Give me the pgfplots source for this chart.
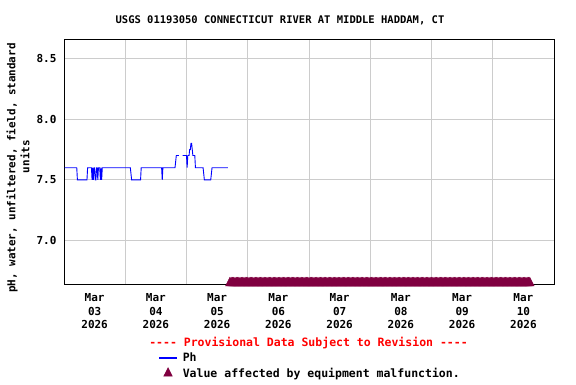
\documentclass[border=0pt]{standalone}
\usepackage{pgfplots}
\pgfplotsset{compat=1.18}
\usepackage{fontspec}
\setmonofont{DejaVu Sans Mono}
\definecolor{usgsmaroon}{RGB}{128,0,64}
\definecolor{gridgray}{RGB}{204,204,204}
\begin{document}
\begin{tikzpicture}
\path[use as bounding box] (0pt,0pt) rectangle (576pt,384pt);
\node[font=\ttfamily\bfseries\fontsize{10.5}{12}\selectfont] at (280pt,364pt) {USGS 01193050 CONNECTICUT RIVER AT MIDDLE HADDAM, CT};
\node[rotate=90, font=\ttfamily\bfseries\fontsize{10.9}{12}\selectfont] at (12pt,216pt) {pH, water, unfiltered, field, standard};
\node[rotate=90, font=\ttfamily\bfseries\fontsize{10.9}{12}\selectfont] at (25pt,227.3pt) {units};
\node[text=red, font=\ttfamily\bfseries\fontsize{11.5}{13}\selectfont] at (308.5pt,41pt) {---- Provisional Data Subject to Revision ----};
\begin{axis}[
 at={(64pt,99.7pt)}, anchor=south west, scale only axis, width=490pt, height=245pt,
 xmin=0, xmax=192, ymin=6.641, ymax=8.656,
 xtick={12,36,60,84,108,132,156,180},
 xticklabels={{Mar\\03\\2026},{Mar\\04\\2026},{Mar\\05\\2026},{Mar\\06\\2026},{Mar\\07\\2026},{Mar\\08\\2026},{Mar\\09\\2026},{Mar\\10\\2026}},
 minor xtick={24,48,72,96,120,144,168},
 ytick={7,7.5,8,8.5},
 major tick length=0pt, minor tick length=0pt,
 xminorgrids=true, ymajorgrids=true,
 grid style={gridgray, line width=1pt}, minor grid style={gridgray, line width=1pt},
 axis line style={black, line width=1pt},
 tick label style={font=\ttfamily\bfseries\fontsize{11}{13.5}\selectfont},
 xticklabel style={align=center, yshift=-6pt},
 /pgf/number format/assume math mode=true,
 yticklabel style={xshift=-4pt, /pgf/number format/fixed, /pgf/number format/fixed zerofill, /pgf/number format/precision=1},
 clip=false,
 unbounded coords=jump,
 legend cell align=left,
 legend style={at={(axis description cs:0.188,-0.262)}, anchor=north west, draw=none, fill=none,
   font=\ttfamily\bfseries\fontsize{11.5}{13}\selectfont, row sep=1pt, column sep=4pt},
]
\addplot[blue, line width=0.9pt, sharp plot, forget plot] coordinates {
(0.25,7.6) (5.0,7.6) (5.25,7.5) (9.0,7.5) (9.25,7.6) (10.75,7.6) (11.0,7.5) (11.25,7.6) (11.5,7.5) (11.75,7.6)
(12.0,7.6) (12.25,7.5) (12.5,7.5) (12.75,7.6) (13.0,7.6) (13.25,7.5) (13.5,7.6) (14.0,7.6) (14.25,7.5) (14.5,7.6)
(14.75,7.5) (15.0,7.6) (26.0,7.6) (26.25,7.55) (26.5,7.5) (30.0,7.5) (30.25,7.6) (38.25,7.6) (38.5,7.5) (38.75,7.6)
(43.5,7.6) (43.75,7.65) (44.0,7.7) (45.0,7.7) (45.5,nan) (46.5,7.7) (48.0,7.7) (48.25,7.6) (48.5,7.7) (49.0,7.7)
(49.25,7.75) (49.5,7.75) (49.75,7.8) (50.0,7.8) (50.25,7.75) (50.5,7.7) (51.25,7.7) (51.5,7.6) (54.5,7.6) (54.75,7.55)
(55.0,7.5) (57.5,7.5) (57.75,7.55) (58.0,7.6) (64.25,7.6)
};
\addplot[only marks, forget plot, mark=triangle*, mark size=5pt, mark options={usgsmaroon, draw=none, fill=usgsmaroon, yscale=1.15}] coordinates {
(65,6.652) (65.5,6.652) (66,6.652) (66.5,6.652) (67,6.652) (67.5,6.652) (68,6.652) (68.5,6.652) (69,6.652) (69.5,6.652)
(70,6.652) (70.5,6.652) (71,6.652) (71.5,6.652) (72,6.652) (72.5,6.652) (73,6.652) (73.5,6.652) (74,6.652) (74.5,6.652)
(75,6.652) (75.5,6.652) (76,6.652) (76.5,6.652) (77,6.652) (77.5,6.652) (78,6.652) (78.5,6.652) (79,6.652) (79.5,6.652)
(80,6.652) (80.5,6.652) (81,6.652) (81.5,6.652) (82,6.652) (82.5,6.652) (83,6.652) (83.5,6.652) (84,6.652) (84.5,6.652)
(85,6.652) (85.5,6.652) (86,6.652) (86.5,6.652) (87,6.652) (87.5,6.652) (88,6.652) (88.5,6.652) (89,6.652) (89.5,6.652)
(90,6.652) (90.5,6.652) (91,6.652) (91.5,6.652) (92,6.652) (92.5,6.652) (93,6.652) (93.5,6.652) (94,6.652) (94.5,6.652)
(95,6.652) (95.5,6.652) (96,6.652) (96.5,6.652) (97,6.652) (97.5,6.652) (98,6.652) (98.5,6.652) (99,6.652) (99.5,6.652)
(100,6.652) (100.5,6.652) (101,6.652) (101.5,6.652) (102,6.652) (102.5,6.652) (103,6.652) (103.5,6.652) (104,6.652) (104.5,6.652)
(105,6.652) (105.5,6.652) (106,6.652) (106.5,6.652) (107,6.652) (107.5,6.652) (108,6.652) (108.5,6.652) (109,6.652) (109.5,6.652)
(110,6.652) (110.5,6.652) (111,6.652) (111.5,6.652) (112,6.652) (112.5,6.652) (113,6.652) (113.5,6.652) (114,6.652) (114.5,6.652)
(115,6.652) (115.5,6.652) (116,6.652) (116.5,6.652) (117,6.652) (117.5,6.652) (118,6.652) (118.5,6.652) (119,6.652) (119.5,6.652)
(120,6.652) (120.5,6.652) (121,6.652) (121.5,6.652) (122,6.652) (122.5,6.652) (123,6.652) (123.5,6.652) (124,6.652) (124.5,6.652)
(125,6.652) (125.5,6.652) (126,6.652) (126.5,6.652) (127,6.652) (127.5,6.652) (128,6.652) (128.5,6.652) (129,6.652) (129.5,6.652)
(130,6.652) (130.5,6.652) (131,6.652) (131.5,6.652) (132,6.652) (132.5,6.652) (133,6.652) (133.5,6.652) (134,6.652) (134.5,6.652)
(135,6.652) (135.5,6.652) (136,6.652) (136.5,6.652) (137,6.652) (137.5,6.652) (138,6.652) (138.5,6.652) (139,6.652) (139.5,6.652)
(140,6.652) (140.5,6.652) (141,6.652) (141.5,6.652) (142,6.652) (142.5,6.652) (143,6.652) (143.5,6.652) (144,6.652) (144.5,6.652)
(145,6.652) (145.5,6.652) (146,6.652) (146.5,6.652) (147,6.652) (147.5,6.652) (148,6.652) (148.5,6.652) (149,6.652) (149.5,6.652)
(150,6.652) (150.5,6.652) (151,6.652) (151.5,6.652) (152,6.652) (152.5,6.652) (153,6.652) (153.5,6.652) (154,6.652) (154.5,6.652)
(155,6.652) (155.5,6.652) (156,6.652) (156.5,6.652) (157,6.652) (157.5,6.652) (158,6.652) (158.5,6.652) (159,6.652) (159.5,6.652)
(160,6.652) (160.5,6.652) (161,6.652) (161.5,6.652) (162,6.652) (162.5,6.652) (163,6.652) (163.5,6.652) (164,6.652) (164.5,6.652)
(165,6.652) (165.5,6.652) (166,6.652) (166.5,6.652) (167,6.652) (167.5,6.652) (168,6.652) (168.5,6.652) (169,6.652) (169.5,6.652)
(170,6.652) (170.5,6.652) (171,6.652) (171.5,6.652) (172,6.652) (172.5,6.652) (173,6.652) (173.5,6.652) (174,6.652) (174.5,6.652)
(175,6.652) (175.5,6.652) (176,6.652) (176.5,6.652) (177,6.652) (177.5,6.652) (178,6.652) (178.5,6.652) (179,6.652) (179.5,6.652)
(180,6.652) (180.5,6.652) (181,6.652) (181.5,6.652) (182,6.652) (182.5,6.652)
};
\addlegendimage{legend image code/.code={\fill[blue] (0cm,-0.5pt) rectangle (0.6cm,0.5pt);}}
\addlegendentry{Ph}
\addlegendimage{only marks, mark=triangle*, mark size=5pt, mark options={usgsmaroon, draw=none, fill=usgsmaroon, yscale=1.15}}
\addlegendentry{Value affected by equipment malfunction.}
\draw[black, line width=1pt] (rel axis cs:0,0) -- (rel axis cs:1,0);
\end{axis}
\end{tikzpicture}
\end{document}
